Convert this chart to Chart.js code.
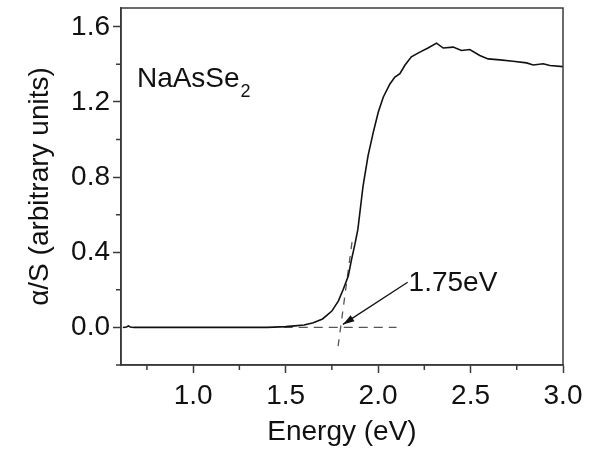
<!DOCTYPE html>
<html lang="en">
<head>
  <meta charset="UTF-8" />
  <title>NaAsSe2 absorption</title>
  <style>
    body {
      margin: 0;
      background: #fff;
    }
    #wrap {
      width: 594px;
      height: 449px;
    }
  </style>
  <script src="https://cdn.jsdelivr.net/npm/chart.js"></script>
</head>
<body>
  <div id="wrap"><canvas id="absChart" width="594" height="449"></canvas></div>
  <script>
    // Absorption curve
    const energy = [0.62, 0.64, 0.65, 0.66, 0.68, 0.8, 1.0, 1.2, 1.4, 1.47, 1.5, 1.55, 1.6, 1.65, 1.70,
      1.75, 1.785, 1.812, 1.839, 1.857, 1.875, 1.891, 1.919, 1.946, 1.974, 2.001, 2.028, 2.064,
      2.091, 2.118, 2.145, 2.18, 2.226, 2.27, 2.316, 2.352, 2.406, 2.451, 2.496, 2.55, 2.595,
      2.659, 2.73, 2.803, 2.839, 2.893, 2.929, 3.0];
    const absorb = [0, 0.002, 0.008, 0.002, 0, 0, 0, 0, 0, 0.003, 0.004, 0.008, 0.013, 0.025, 0.045,
      0.087, 0.14, 0.203, 0.274, 0.363, 0.443, 0.523, 0.754, 0.914, 1.038, 1.145, 1.225, 1.296,
      1.332, 1.35, 1.395, 1.44, 1.465, 1.487, 1.513, 1.487, 1.492, 1.474, 1.479, 1.447, 1.429,
      1.424, 1.417, 1.408, 1.397, 1.403, 1.394, 1.388];

    // dashed construction lines (baseline + tangent)
    const baseX = [1.49, 2.10];
    const baseY = [0, 0];
    const tangX = [1.784, 1.86];
    const tangY = [-0.1, 0.46];

    // arrow from label to the intercept
    const arrowX = [2.16, 1.81];
    const arrowY = [0.24, 0.016];

    const xTicks = [1.0, 1.5, 2.0, 2.5, 3.0];
    const xTickLabels = ['1.0', '1.5', '2.0', '2.5', '3.0'];
    const xMinor = [0.75, 1.25, 1.75, 2.25, 2.75];
    const yTicks = [0.0, 0.4, 0.8, 1.2, 1.6];
    const yTickLabels = ['0.0', '0.4', '0.8', '1.2', '1.6'];
    const yMinor = [-0.2, 0.2, 0.6, 1.0, 1.4];

    const FONT = "'Liberation Sans', Arial, sans-serif";
    const INK = '#3a3a3a';

    function pts(xs, ys) {
      return xs.map((x, i) => ({ x: x, y: ys[i] }));
    }

    // frame, minor ticks, arrowhead and the text labels
    const extras = {
      id: 'extras',
      afterDraw(chart) {
        const ctx = chart.ctx;
        const a = chart.chartArea;
        const xs = chart.scales.x, ys = chart.scales.y;
        ctx.save();
        ctx.strokeStyle = INK;
        ctx.lineWidth = 1.5;
        ctx.strokeRect(a.left, a.top, a.right - a.left, a.bottom - a.top);

        ctx.beginPath();
        xMinor.forEach(v => {
          const px = xs.getPixelForValue(v);
          ctx.moveTo(px, a.bottom);
          ctx.lineTo(px, a.bottom + 5);
        });
        yMinor.forEach(v => {
          const py = ys.getPixelForValue(v);
          ctx.moveTo(a.left, py);
          ctx.lineTo(a.left - 5, py);
        });
        ctx.stroke();

        // arrowhead
        const x0 = xs.getPixelForValue(arrowX[0]), y0 = ys.getPixelForValue(arrowY[0]);
        const x1 = xs.getPixelForValue(arrowX[1]), y1 = ys.getPixelForValue(arrowY[1]);
        const ang = Math.atan2(y1 - y0, x1 - x0);
        ctx.fillStyle = '#111';
        ctx.beginPath();
        ctx.moveTo(x1, y1);
        ctx.lineTo(x1 - 12 * Math.cos(ang - 0.3), y1 - 12 * Math.sin(ang - 0.3));
        ctx.lineTo(x1 - 12 * Math.cos(ang + 0.3), y1 - 12 * Math.sin(ang + 0.3));
        ctx.closePath();
        ctx.fill();

        // labels
        ctx.fillStyle = '#111';
        ctx.textBaseline = 'alphabetic';
        ctx.font = '28px ' + FONT;
        const nx = xs.getPixelForValue(0.696), ny = ys.getPixelForValue(1.28);
        ctx.fillText('NaAsSe', nx, ny);
        const w = ctx.measureText('NaAsSe').width;
        ctx.font = '18px ' + FONT;
        ctx.fillText('2', nx + w + 1, ny + 10);
        ctx.font = '28px ' + FONT;
        ctx.fillText('1.75eV', xs.getPixelForValue(2.165), ys.getPixelForValue(0.192));
        ctx.restore();
      }
    };

    const tickFont = { family: FONT, size: 28 };

    new Chart(document.getElementById('absChart'), {
      type: 'scatter',
      data: {
        datasets: [
          {
            data: pts(energy, absorb),
            showLine: true,
            borderColor: '#111',
            borderWidth: 1.6,
            pointRadius: 0,
            tension: 0
          },
          {
            data: pts(baseX, baseY),
            showLine: true,
            borderColor: '#555',
            borderWidth: 1.3,
            borderDash: [9, 6],
            pointRadius: 0
          },
          {
            data: pts(tangX, tangY),
            showLine: true,
            borderColor: '#555',
            borderWidth: 1.3,
            borderDash: [7, 7],
            pointRadius: 0
          },
          {
            data: pts(arrowX, arrowY),
            showLine: true,
            borderColor: '#111',
            borderWidth: 1.3,
            pointRadius: 0
          }
        ]
      },
      options: {
        responsive: false,
        animation: false,
        layout: { padding: { top: 8, right: 31, left: 0, bottom: 0 } },
        plugins: {
          legend: { display: false },
          tooltip: { enabled: false }
        },
        scales: {
          x: {
            type: 'linear',
            min: 0.61,
            max: 3.0,
            afterBuildTicks: s => { s.ticks = xTicks.map(v => ({ value: v })); },
            afterFit: s => { s.height = 84; },
            ticks: {
              color: '#111',
              font: tickFont,
              padding: 6,
              maxRotation: 0,
              callback: v => xTickLabels[xTicks.indexOf(v)]
            },
            grid: {
              drawOnChartArea: false,
              tickLength: 8,
              tickColor: INK,
              tickWidth: 1.5
            },
            border: { color: INK, width: 1.5 },
            title: {
              display: true,
              text: 'Energy (eV)',
              color: '#111',
              font: { family: FONT, size: 28 },
              padding: { top: 7, bottom: 0 }
            }
          },
          y: {
            min: -0.2,
            max: 1.7,
            afterBuildTicks: s => { s.ticks = yTicks.map(v => ({ value: v })); },
            afterFit: s => {
              s.width = 121;
              s.paddingTop = 0;
              s.paddingBottom = 0;
            },
            ticks: {
              color: '#111',
              font: tickFont,
              padding: 3,
              callback: v => yTickLabels[yTicks.indexOf(v)]
            },
            grid: {
              drawOnChartArea: false,
              tickLength: 8,
              tickColor: INK,
              tickWidth: 1.5
            },
            border: { color: INK, width: 1.5 },
            title: {
              display: true,
              text: 'α/S (arbitrary units)',
              color: '#111',
              font: { family: FONT, size: 28 },
              padding: { top: 23, bottom: 0 }
            }
          }
        }
      },
      plugins: [extras]
    });
  </script>
</body>
</html>
